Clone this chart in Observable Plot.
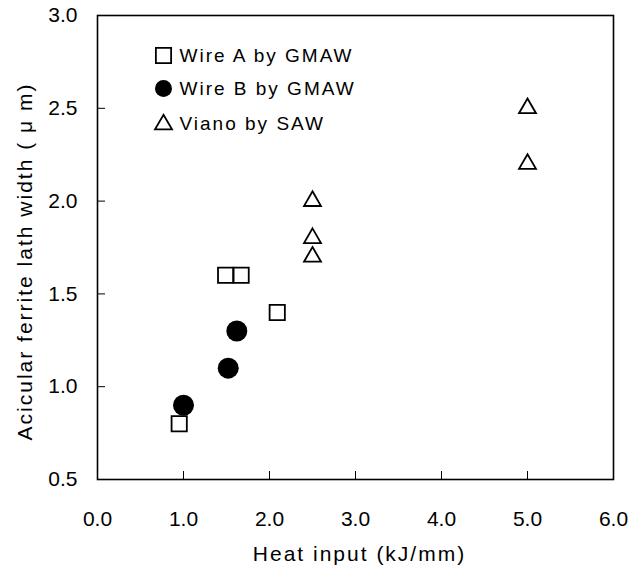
<!DOCTYPE html>
<html><head><meta charset="utf-8">
<script src="https://cdn.jsdelivr.net/npm/d3@7"></script>
<script src="https://cdn.jsdelivr.net/npm/@observablehq/plot@0.6"></script>
<style>
body{margin:0;background:#fff}
svg{display:block}
g[aria-label="text"] text {letter-spacing:2px}
</style>
</head><body><div id="chart"></div>
<script>
const seriesNames = ["Wire A by GMAW", "Wire B by GMAW", "Viano by SAW"];
const wireAx = [0.95, 1.49, 1.67, 2.09];
const wireAy = [0.8, 1.6, 1.6, 1.4];
const wireBx = [1.0, 1.52, 1.62];
const wireBy = [0.9, 1.1, 1.3];
const vianoX = [2.5, 2.5, 2.5, 5.0, 5.0];
const vianoY = [2.0, 1.8, 1.7, 2.5, 2.2];
const xTicks = [0, 1, 2, 3, 4, 5, 6];
const yTicks = [0.5, 1.0, 1.5, 2.0, 2.5, 3.0];
const xLabel = "Heat input (kJ/mm)";
const yLabel = "Acicular ferrite lath width ( \u03bc m)";

const A = wireAx.map((x, i) => ({x, y: wireAy[i]}));
const B = wireBx.map((x, i) => ({x, y: wireBy[i]}));
const V = vianoX.map((x, i) => ({x, y: vianoY[i]}));

const chart = Plot.plot({
  width: 631, height: 569,
  marginLeft: 97, marginRight: 18, marginTop: 15, marginBottom: 90,
  style: {fontFamily: "'Liberation Sans', Arial, sans-serif", fontSize: "21px", color: "#000", background: "#fff"},
  x: {domain: [0, 6]},
  y: {domain: [0.5, 3]},
  marks: [
    Plot.frame({stroke: "#000", strokeWidth: 1.6}),
    Plot.axisX({ticks: xTicks, tickSize: -8, text: null, label: null}),
    Plot.axisX({ticks: xTicks, tickSize: 0, tickPadding: 32, tickFormat: d3.format(".1f"), label: null}),
    Plot.axisY({ticks: yTicks, tickSize: -8, text: null, label: null}),
    Plot.axisY({ticks: yTicks, tickSize: 0, tickPadding: 20, tickFormat: d3.format(".1f"), label: null}),
    Plot.text([xLabel], {frameAnchor: "bottom", dx: 4, dy: 75, text: d => d, textAnchor: "middle", lineAnchor: "middle", fontSize: 21}),
    Plot.text([yLabel], {frameAnchor: "left", dx: -72, dy: 14, rotate: -90, text: d => d, textAnchor: "middle", lineAnchor: "middle", fontSize: 21}),
    Plot.dot(A, {x: "x", y: "y", symbol: "square", r: 8.6, stroke: "#000", strokeWidth: 1.8, fill: "none"}),
    Plot.dot(B, {x: "x", y: "y", symbol: "circle", r: 10.5, fill: "#000", stroke: "none"}),
    Plot.dot(V, {x: "x", y: "y", symbol: "triangle", r: 6.3, stroke: "#000", strokeWidth: 1.8, fill: "none"}),
    // legend
    Plot.dot([seriesNames[0]], {frameAnchor: "top-left", dx: 66, dy: 40, symbol: "square", r: 8.6, stroke: "#000", strokeWidth: 1.8, fill: "none"}),
    Plot.dot([seriesNames[1]], {frameAnchor: "top-left", dx: 66, dy: 73, symbol: "circle", r: 8.5, fill: "#000", stroke: "none"}),
    Plot.dot([seriesNames[2]], {frameAnchor: "top-left", dx: 66, dy: 109, symbol: "triangle", r: 6.3, stroke: "#000", strokeWidth: 1.8, fill: "none"}),
    Plot.text([seriesNames[0]], {frameAnchor: "top-left", dx: 82, dy: 40, text: d => d, textAnchor: "start", lineAnchor: "middle", fontSize: 19}),
    Plot.text([seriesNames[1]], {frameAnchor: "top-left", dx: 82, dy: 73, text: d => d, textAnchor: "start", lineAnchor: "middle", fontSize: 19}),
    Plot.text([seriesNames[2]], {frameAnchor: "top-left", dx: 82, dy: 108, text: d => d, textAnchor: "start", lineAnchor: "middle", fontSize: 19})
  ]
});
document.getElementById("chart").appendChild(chart);
</script>
</body></html>
